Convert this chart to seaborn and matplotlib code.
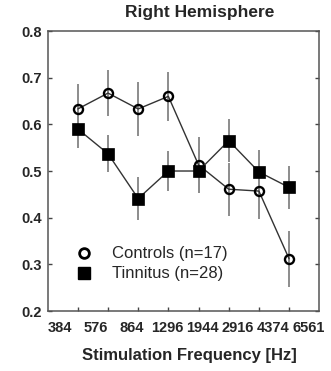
import matplotlib
matplotlib.use("Agg")
import matplotlib.pyplot as plt
from matplotlib.lines import Line2D
import seaborn as sns
import pandas as pd

# ---- data ----
freq_labels = ["384", "576", "864", "1296", "1944", "2916", "4374", "6561"]
positions = [1, 2, 3, 4, 5, 6, 7, 8]
controls_mean = [0.633, 0.667, 0.633, 0.660, 0.513, 0.461, 0.457, 0.312]
controls_err = [0.053, 0.050, 0.058, 0.052, 0.060, 0.057, 0.060, 0.060]
tinnitus_mean = [0.590, 0.537, 0.441, 0.500, 0.500, 0.565, 0.498, 0.465]
tinnitus_err = [0.040, 0.040, 0.046, 0.042, 0.048, 0.046, 0.047, 0.046]
legend_labels = ["Controls (n=17)", "Tinnitus (n=28)"]
y_ticks = [0.2, 0.3, 0.4, 0.5, 0.6, 0.7, 0.8]

sns.set_theme(style="white")
plt.rcParams["font.family"] = ["Liberation Sans", "DejaVu Sans"]

df_c = pd.DataFrame({"pos": positions, "value": controls_mean})
df_t = pd.DataFrame({"pos": positions, "value": tinnitus_mean})

fig = plt.figure(figsize=(3.31, 3.71), dpi=100)
ax = fig.add_axes([0.144, 0.1617, 0.8205, 0.7547])

err_kw = dict(fmt="none", ecolor="#8c8c8c", elinewidth=1.4, capsize=0, zorder=1)
ax.errorbar(positions, controls_mean, yerr=controls_err, **err_kw)
ax.errorbar(positions, tinnitus_mean, yerr=tinnitus_err, **err_kw)

sns.lineplot(data=df_c, x="pos", y="value", ax=ax, color="#333333", lw=1.0,
             marker="o", markersize=6.5, markerfacecolor="none",
             markeredgecolor="black", markeredgewidth=1.7, zorder=3)
sns.lineplot(data=df_t, x="pos", y="value", ax=ax, color="#333333", lw=1.0,
             marker="s", markersize=8.3, markerfacecolor="black",
             markeredgecolor="black", markeredgewidth=0.5, zorder=3)

ax.set_xlim(0, 9)
ax.set_ylim(0.2, 0.8)
ax.set_xticks(positions)
ax.set_xticklabels([])
ax.set_yticks(y_ticks)
ax.set_yticklabels([f"{v:.1f}" for v in y_ticks], fontweight="bold", fontsize=10.5)
ax.tick_params(direction="in", length=3, width=1, color="#444444",
               top=True, right=True, bottom=True, left=True, pad=4.3)
ax.set_xlabel("")
ax.set_ylabel("")
for s in ax.spines.values():
    s.set_color("#555555")
    s.set_linewidth(1.1)

# frequency labels on a twin axis (evenly spread under the plot)
ax2 = ax.twiny()
ax2.set_xlim(-0.36, 7.29)
ax2.set_xticks(range(len(freq_labels)))
ax2.set_xticklabels(freq_labels, fontweight="bold", fontsize=10.5)
ax2.xaxis.set_ticks_position("bottom")
ax2.xaxis.set_label_position("bottom")
ax2.tick_params(axis="x", length=0, pad=7.5)
for s in ax2.spines.values():
    s.set_visible(False)
ax2.set_xlabel("Stimulation Frequency [Hz]", fontweight="bold", fontsize=12,
               x=0.52, labelpad=9)

ax.set_title("Right Hemisphere", fontweight="bold", fontsize=12.5, x=0.56, pad=10)

handles = [
    Line2D([], [], ls="none", marker="o", markersize=7, markerfacecolor="none",
           markeredgecolor="black", markeredgewidth=2.0),
    Line2D([], [], ls="none", marker="s", markersize=9, markerfacecolor="black",
           markeredgecolor="black"),
]
ax.legend(handles, legend_labels, loc="center left", bbox_to_anchor=(0.103, 0.168),
          frameon=False, fontsize=12, handlelength=1.0, handletextpad=1.18,
          labelspacing=0.3, borderpad=0, borderaxespad=0)

fig.savefig("out.png", dpi=100)
